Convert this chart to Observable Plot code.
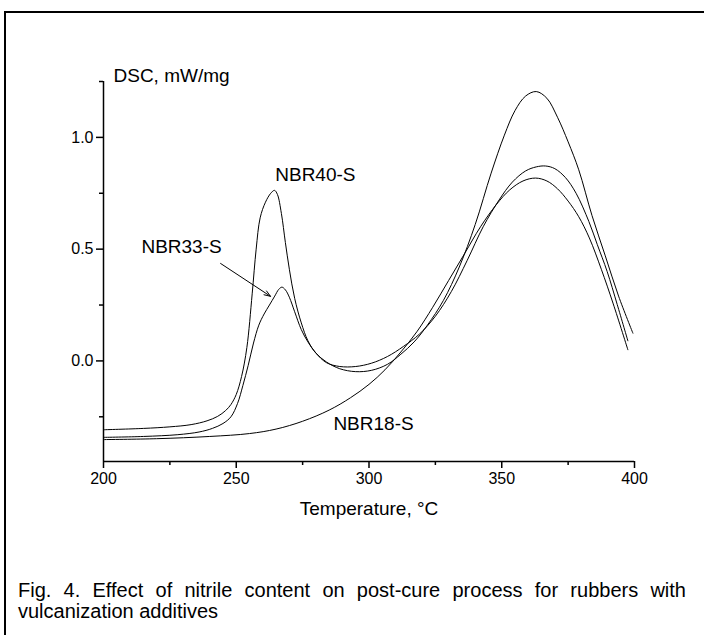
<!DOCTYPE html>
<html>
<head>
<meta charset="utf-8">
<script src="https://cdn.jsdelivr.net/npm/d3@7"></script>
<script src="https://cdn.jsdelivr.net/npm/@observablehq/plot@0.6"></script>
<style>
  html, body { margin: 0; padding: 0; background: #fff; }
  body { width: 704px; height: 635px; position: relative; overflow: hidden; font-family: "Liberation Sans", Arial, sans-serif; }
  #frame { position: absolute; left: 4px; top: 11px; width: 702px; height: 630px; border-top: 2px solid #000; border-left: 2px solid #000; }
  #chart { position: absolute; left: 0; top: 0; }
  #caption { position: absolute; left: 18px; top: 580px; width: 668px; font-size: 20px; line-height: 21px; text-align: justify; text-align-last: left; color: #000; }
</style>
</head>
<body>
<div id="frame"></div>
<div id="chart"></div>
<div id="caption">Fig. 4. Effect of nitrile content on post-cure process for rubbers with vulcanization additives</div>
<script>
// NBR40-S
const t40 = [200,215,225,233,239,243,246,248,250,252,254,256,257.5,259,261,263,264.4,265.5,267,268.5,270,272,274.5,277,280,284,289,295,301,307,312,317,322,328,334,340,346,351,355,359,363,367,371,375,379,384,389,394,399.4];
const v40 = [-0.308,-0.302,-0.295,-0.285,-0.268,-0.248,-0.222,-0.195,-0.15,-0.07,0.06,0.30,0.50,0.64,0.71,0.75,0.763,0.745,0.66,0.53,0.41,0.28,0.17,0.09,0.035,-0.005,-0.035,-0.048,-0.042,-0.015,0.03,0.085,0.16,0.27,0.42,0.61,0.84,1.01,1.12,1.185,1.205,1.175,1.09,0.98,0.855,0.65,0.47,0.29,0.124];
// NBR33-S
const t33 = [200,215,228,236,241,245,248,250.5,252.5,254.5,256.5,258.5,260.5,262.5,264.5,266,267.2,268.5,270,272,274.5,277,280,284,289,295,301,307,313,319,325,331,337,343,349,354,359,363,366.5,370,374,378,382.8,386,389.7,393.5,397.5];
const v33 = [-0.342,-0.338,-0.330,-0.318,-0.302,-0.28,-0.25,-0.19,-0.11,-0.02,0.08,0.16,0.21,0.25,0.29,0.32,0.33,0.318,0.285,0.22,0.14,0.085,0.035,-0.008,-0.025,-0.025,-0.01,0.02,0.065,0.12,0.20,0.31,0.45,0.60,0.72,0.80,0.85,0.868,0.872,0.86,0.82,0.75,0.624,0.52,0.40,0.252,0.09];
// NBR18-S
const t18 = [200,220,240,255,265,275,285,293,300,306,312,318,324,330,336,342,348,353,358,362.7,367,371,375,379,383,387.5,392,397.5];
const v18 = [-0.352,-0.348,-0.338,-0.325,-0.305,-0.27,-0.22,-0.165,-0.105,-0.04,0.04,0.13,0.24,0.36,0.48,0.60,0.70,0.765,0.805,0.818,0.805,0.77,0.715,0.645,0.55,0.41,0.255,0.05];

const seriesNames = ["NBR40-S", "NBR33-S", "NBR18-S"];
const xMajor = [200, 250, 300, 350, 400];
const xMinor = [225, 275, 325, 375];
const yMajor = [0, 0.5, 1.0];
const yMinor = [-0.25, 0.25, 0.75, 1.25];
const xTitle = "Temperature, \u00B0C";
const yTitle = "DSC, mW/mg";

// label positions (data units)
const labelNames = ["NBR40-S", "NBR33-S", "NBR18-S"];
const labelT = [279.8, 229.4, 301.7];
const labelV = [0.834, 0.508, -0.284];
// arrow for NBR33-S
const arrowFrom = [244.1, 0.436];
const arrowTo = [262.9, 0.289];

const rows = [];
[[t40, v40], [t33, v33], [t18, v18]].forEach(([ts, vs], i) => {
  ts.forEach((t, j) => rows.push({name: seriesNames[i], T: t, v: vs[j]}));
});
const labels = labelNames.map((n, i) => ({name: n, T: labelT[i], v: labelV[i]}));
const arrows = [{x1: arrowFrom[0], y1: arrowFrom[1], x2: arrowTo[0], y2: arrowTo[1]}];

const chart = Plot.plot({
  width: 704,
  height: 530,
  marginLeft: 103,
  marginRight: 70,
  marginTop: 81,
  marginBottom: 69,
  x: {domain: [200, 400]},
  y: {domain: [-0.45, 1.25]},
  style: {fontFamily: "'Liberation Sans', Arial, sans-serif", color: "#000", background: "transparent", overflow: "visible"},
  marks: [
    Plot.axisX({ticks: xMajor, tickSize: 7, tickPadding: 4, tickFormat: d => String(d), fontSize: 16, label: null, strokeWidth: 1.5}),
    Plot.axisX({ticks: xMinor, tickSize: 4, tickFormat: () => "", label: null, strokeWidth: 1.5}),
    Plot.axisY({ticks: yMajor, tickSize: 7, tickPadding: 3, tickFormat: d3.format(".1f"), fontSize: 16, label: null, strokeWidth: 1.5}),
    Plot.axisY({ticks: yMinor, tickSize: 4, tickFormat: () => "", label: null, strokeWidth: 1.5}),
    Plot.ruleY([-0.45], {stroke: "#000", strokeWidth: 1.5}),
    Plot.ruleX([200], {stroke: "#000", strokeWidth: 1.5}),
    Plot.line(rows, {x: "T", y: "v", z: "name", curve: "catmull-rom", stroke: "#000", strokeWidth: 1}),
    Plot.text(labels, {x: "T", y: "v", text: "name", fontSize: 19, fill: "#000"}),
    Plot.arrow(arrows, {x1: "x1", y1: "y1", x2: "x2", y2: "y2", stroke: "#000", strokeWidth: 1, headLength: 10, headAngle: 40}),
    Plot.text([yTitle], {frameAnchor: "top-left", dx: 10, dy: 0, lineAnchor: "bottom", textAnchor: "start", fontSize: 19, fill: "#000"}),
    Plot.text([xTitle], {frameAnchor: "bottom", dy: 53, lineAnchor: "bottom", fontSize: 19, fill: "#000"})
  ]
});
document.getElementById("chart").appendChild(chart);
</script>
</body>
</html>
